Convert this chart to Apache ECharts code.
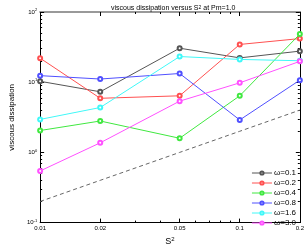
<!DOCTYPE html>
<html><head><meta charset="utf-8">
<script src="https://cdn.jsdelivr.net/npm/echarts@6/dist/echarts.min.js"></script>
<style>html,body{margin:0;padding:0;background:#fff}#c{width:307px;height:251px}</style>
</head><body><div id="c"></div>
<script>
const xValues = [0.01, 0.02, 0.05, 0.1, 0.2];
const xMajorTicks = [0.01, 0.02, 0.05, 0.1, 0.2];
const xMinorTicks = [0.03, 0.04, 0.06, 0.07, 0.08, 0.09];
const yMajorTicks = [0.1, 1, 10, 100];
const yMinorTicks = [0.2,0.3,0.4,0.5,0.6,0.7,0.8,0.9,2,3,4,5,6,7,8,9,20,30,40,50,60,70,80,90];
const names = ['ω=0.1','ω=0.2','ω=0.4','ω=0.8','ω=1.6','ω=3.0'];
const omega01 = [10.3, 7.3, 30.5, 22.2, 27.7];
const omega02 = [22, 5.9, 6.4, 34.5, 41.8];
const omega04 = [2.05, 2.8, 1.59, 6.4, 48.4];
const omega08 = [12.4, 11.1, 13.3, 2.9, 10.7];
const omega16 = [2.95, 4.36, 23.2, 21.1, 20.2];
const omega30 = [0.544, 1.37, 5.37, 9.8, 19.8];
const refLine = [0.2, 0.4, 1.0, 2.0, 4.0];
const colors = ['#555555','#ff5050','#40e840','#5050ff','#40f8f8','#ff50ff'];
const allSeries = [omega01, omega02, omega04, omega08, omega16, omega30];

const zip = arr => xValues.map((x, i) => [x, arr[i]]);
const FONT = 'Liberation Sans';
function fmtX(v){ return String(+v.toPrecision(3)); }
function fmtY(v){ const e = Math.round(Math.log10(v)); return '10{s|' + e + '}'; }

const baseLog = { type: 'log', logBase: 10, min: 0.01, max: 0.2, gridIndex: 0 };
const baseLogY = { type: 'log', logBase: 10, min: 0.1, max: 100, gridIndex: 0 };

const chart = echarts.init(document.getElementById('c'), null, {renderer: 'canvas'});
chart.setOption({
  animation: false,
  textStyle: { fontFamily: FONT },
  title: {
    text: 'viscous dissipation versus S{s|2} at Pm=1.0',
    left: 106, top: 0,
    textStyle: { fontSize: 7, fontWeight: 'normal', color: '#000', fontFamily: FONT,
      rich: { s: { fontSize: 5, verticalAlign: 'top', lineHeight: 6, padding: [0,0,3,0] } } }
  },
  grid: { left: 23, right: 5, top: 12, bottom: 19, containLabel: false },
  legend: {
    orient: 'vertical', right: 6, top: 164, bottom: 0, itemWidth: 20, itemHeight: 4, itemGap: 2,
    data: names,
    itemStyle: { borderWidth: 1 },
    lineStyle: { width: 1 },
    textStyle: { fontSize: 8, lineHeight: 8, height: 8, color: '#000', fontFamily: FONT, padding: [0,0,0,-3] }
  },
  xAxis: [
    Object.assign({}, baseLog, {
      position: 'bottom',
      name: 'S{s|2}', nameLocation: 'middle', nameGap: 7,
      nameTextStyle: { fontSize: 9, color: '#000', fontFamily: FONT,
        rich: { s: { fontSize: 6, verticalAlign: 'top', padding: [0,0,4,0] } } },
      axisLine: { lineStyle: { color: '#000', width: 1 } },
      axisTick: { inside: true, length: 4, lineStyle: { color: '#000' }, customValues: xMajorTicks },
      axisLabel: { fontSize: 6, color: '#000', margin: 3, customValues: xMajorTicks, formatter: fmtX },
      splitLine: { show: false }
    }),
    Object.assign({}, baseLog, {
      position: 'bottom',
      axisLine: { show: false },
      axisTick: { inside: true, length: 2, lineStyle: { color: '#000' }, customValues: xMinorTicks },
      axisLabel: { show: false }, splitLine: { show: false }
    }),
    Object.assign({}, baseLog, {
      position: 'top',
      axisLine: { lineStyle: { color: '#999', width: 2 } },
      axisTick: { inside: true, length: 4, lineStyle: { color: '#000' }, customValues: xMajorTicks },
      axisLabel: { show: false }, splitLine: { show: false }
    }),
    Object.assign({}, baseLog, {
      position: 'top',
      axisLine: { show: false },
      axisTick: { inside: true, length: 2, lineStyle: { color: '#000' }, customValues: xMinorTicks },
      axisLabel: { show: false }, splitLine: { show: false }
    })
  ],
  yAxis: [
    Object.assign({}, baseLogY, {
      position: 'left',
      name: 'viscous dissipation', nameLocation: 'middle', nameGap: 13,
      nameTextStyle: { fontSize: 8, color: '#000', fontFamily: FONT },
      axisLine: { lineStyle: { color: '#000', width: 1 } },
      axisTick: { inside: true, length: 4, lineStyle: { color: '#000' }, customValues: yMajorTicks },
      axisLabel: { fontSize: 6, color: '#000', margin: 3, customValues: yMajorTicks, formatter: fmtY,
        rich: { s: { fontSize: 4, verticalAlign: 'top', padding: [0,0,4,0] } } },
      splitLine: { show: false }
    }),
    Object.assign({}, baseLogY, {
      position: 'left', offset: 0,
      axisLine: { show: false },
      axisTick: { inside: true, length: 2, lineStyle: { color: '#000' }, customValues: yMinorTicks },
      axisLabel: { show: false }, splitLine: { show: false }
    }),
    Object.assign({}, baseLogY, {
      position: 'right', offset: 0,
      axisLine: { show: true, lineStyle: { color: '#000', width: 1 } },
      axisTick: { inside: true, length: 4, lineStyle: { color: '#000' }, customValues: yMajorTicks },
      axisLabel: { show: false }, splitLine: { show: false }
    }),
    Object.assign({}, baseLogY, {
      position: 'right', offset: 0,
      axisLine: { show: false },
      axisTick: { inside: true, length: 2, lineStyle: { color: '#000' }, customValues: yMinorTicks },
      axisLabel: { show: false }, splitLine: { show: false }
    })
  ],
  series: [
    {
      type: 'line', name: 'ref', data: zip(refLine), symbol: 'none',
      lineStyle: { color: '#666', width: 1, type: [4, 3] }, silent: true, z: 1
    }
  ].concat(allSeries.map((arr, i) => ({
    type: 'line', name: names[i], data: zip(arr),
    symbol: 'emptyCircle', symbolSize: 4,
    itemStyle: { color: colors[i], borderWidth: 1 },
    lineStyle: { color: colors[i], width: 1 },
    z: 2 + i
  })))
});
</script></body></html>
